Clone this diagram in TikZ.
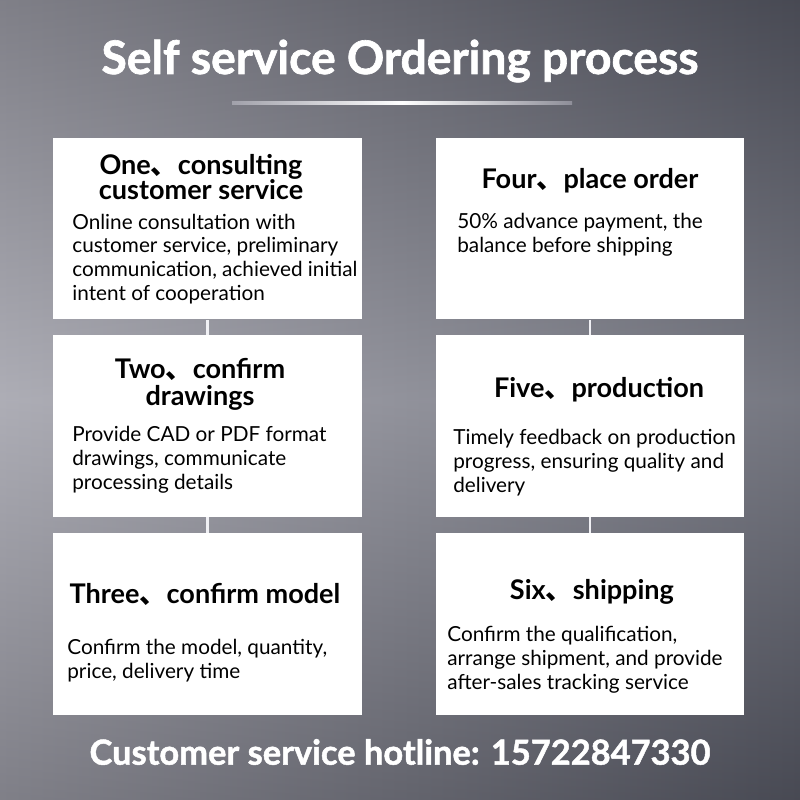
\documentclass[tikz,border=0pt]{standalone}
\usepackage{fontspec}
\setmainfont{Lato}
\newfontfamily\heavyfont{Lato}[BoldFeatures={FakeBold=1.4}]
\newfontfamily\cjk{Noto Sans CJK SC}
\newcommand{\dun}{{\cjk 、}}
\definecolor{bgleft}{RGB}{156,156,166}
\definecolor{bgright}{RGB}{88,90,102}
\definecolor{linkcol}{RGB}{240,240,244}
\begin{document}
\begin{tikzpicture}[x=0.02cm, y=-0.02cm,
	stepbox/.style={fill=white, minimum width=6.18cm, minimum height=3.64cm, inner sep=0pt},
	headtext/.style={font=\fontsize{15.4}{15.4}\selectfont\bfseries, align=center, inner sep=0pt},
	bodytext/.style={font=\fontsize{11.8}{13.6}\selectfont, align=left, anchor=west, inner sep=0pt},
	link/.style={draw=linkcol, line width=1.2pt}]
	% background
	\shade[left color=bgleft, right color=bgright] (0,0) rectangle (800,800);
	\shade[top color=black, bottom color=black, middle color=white, opacity=0.18] (0,0) rectangle (800,800);
	\useasboundingbox (0,0) rectangle (800,800);
	% title
	\node (title) at (400,61) [text=white, font=\fontsize{26.3}{28}\heavyfont\bfseries] {Self service Ordering process};
	\shade[left color=bgleft!95!white, right color=bgleft!80!bgright, middle color=white] (232,102) rectangle (572,105);
	% boxes
	\node (S1) at (207.5,228.5) [stepbox] {};
	\node (S2) at (207.5,426)   [stepbox] {};
	\node (S3) at (207.5,624)   [stepbox] {};
	\node (S4) at (590,228.5)   [stepbox] {};
	\node (S5) at (590,426)     [stepbox] {};
	\node (S6) at (590,624)     [stepbox] {};
	\draw[link] (S1.south) -- (S2.north);
	\draw[link] (S2.south) -- (S3.north);
	\draw[link] (S4.south) -- (S5.north);
	\draw[link] (S5.south) -- (S6.north);
	% step texts
	\node (H1) at (201,177) [headtext] {One\dun consulting\\[-1pt]customer service};
	\node (T1) at (72,259)  [bodytext] {Online consultation with\\customer service, preliminary\\communication, achieved initial\\intent of cooperation};
	\node (H2) at (200,384) [headtext] {Two\dun confirm\\drawings};
	\node (T2) at (72,460)  [bodytext] {Provide CAD or PDF format\\drawings, communicate\\processing details};
	\node (H3) at (205,594) [headtext] {Three\dun confirm model};
	\node (T3) at (67,661)  [bodytext] {Confirm the model, quantity,\\price, delivery time};
	\node (H4) at (590,181) [headtext] {Four\dun place order};
	\node (T4) at (457,235) [bodytext] {50\% advance payment, the\\balance before shipping};
	\node (H5) at (599,390) [headtext] {Five\dun production};
	\node (T5) at (453,463) [bodytext] {Timely feedback on production\\progress, ensuring quality and\\delivery};
	\node (H6) at (592,592) [headtext] {Six\dun shipping};
	\node (T6) at (447,660) [bodytext] {Confirm the qualification,\\arrange shipment, and provide\\after-sales tracking service};
	% hotline
	\node (hotline) at (400,752) [text=white, font=\fontsize{19.6}{21}\heavyfont\bfseries] {Customer service hotline: 15722847330};
\end{tikzpicture}
\end{document}
